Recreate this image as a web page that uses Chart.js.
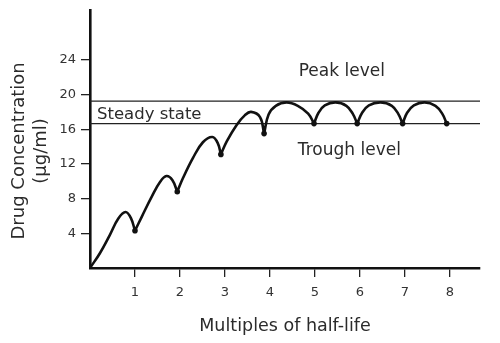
<!DOCTYPE html>
<html>
<head>
<meta charset="utf-8">
<script src="https://cdn.jsdelivr.net/npm/chart.js@4"></script>
<style>
  html, body { margin: 0; padding: 0; background: #fff; }
  #wrap { width: 500px; height: 343px; }
</style>
</head>
<body>
<div id="wrap"><canvas id="c"></canvas></div>
<script>
// Concentration (µg/ml) over time measured in multiples of the drug's half-life.
// Trough concentrations just before each new dose.
const troughX = [1.0, 1.94, 2.91, 3.87, 4.98, 5.94, 6.95, 7.93];
const troughY = [4.3, 8.8, 13.1, 15.5, 16.65, 16.65, 16.65, 16.65];

// Points traced along each dosing interval, between the previous trough
// (the origin for the first dose) and the next trough.
const intervalX = [
  [0.22, 0.44, 0.63, 0.79, 0.91],
  [1.15, 1.37, 1.56, 1.70, 1.83],
  [2.07, 2.29, 2.51, 2.72, 2.84],
  [3.04, 3.26, 3.44, 3.58, 3.78],
  [3.97, 4.13, 4.37, 4.62, 4.85],
  [5.08, 5.22, 5.46, 5.70, 5.84],
  [6.05, 6.20, 6.46, 6.71, 6.85],
  [7.05, 7.20, 7.44, 7.68, 7.83]
];
const intervalY = [
  [1.7, 3.8, 5.7, 6.45, 5.75],
  [5.9, 8.2, 9.95, 10.6, 10.15],
  [10.4, 12.7, 14.5, 15.1, 14.4],
  [14.6, 16.5, 17.6, 18.0, 17.4],
  [17.7, 18.7, 19.1, 18.7, 17.8],
  [17.9, 18.75, 19.1, 18.7, 17.8],
  [17.9, 18.75, 19.1, 18.7, 17.8],
  [17.9, 18.75, 19.1, 18.7, 17.8]
];

// Steady-state band
const peakLevel = 19.25;
const troughLevel = 16.65;

// Axes
const xTicks = [1, 2, 3, 4, 5, 6, 7, 8];
const yTicks = [4, 8, 12, 16, 20, 24];
const xMax = 8.67;
const yMax = 29.75;

// One continuous trace; a null value lifts the pen so every dose starts a fresh arc
// and the troughs stay sharp.
const curve = [];
intervalX.forEach((xs, k) => {
  curve.push(k === 0 ? { x: 0, y: 0 } : { x: troughX[k - 1], y: troughY[k - 1] });
  xs.forEach((x, j) => curve.push({ x, y: intervalY[k][j] }));
  curve.push({ x: troughX[k], y: troughY[k] });
  curve.push({ x: troughX[k], y: null });
});

const INK = '#111';
const TEXT = '#2b2b2b';
const FONT = '"DejaVu Sans", sans-serif';

const figureText = {
  id: 'figureText',
  afterDatasetsDraw(chart) {
    const { ctx, scales: { x, y } } = chart;
    ctx.save();
    ctx.fillStyle = TEXT;
    ctx.textAlign = 'left';
    ctx.textBaseline = 'alphabetic';
    ctx.font = '17px ' + FONT;
    ctx.fillText('Peak level', x.getPixelForValue(4.64), y.getPixelForValue(22.1));
    ctx.fillText('Trough level', x.getPixelForValue(4.62), y.getPixelForValue(13.03));
    ctx.font = '16.5px ' + FONT;
    ctx.fillText('Steady state', x.getPixelForValue(0.156), y.getPixelForValue(17.19));

    // vertical axis title, two stacked lines
    ctx.font = '18px ' + FONT;
    ctx.textAlign = 'center';
    ctx.textBaseline = 'middle';
    const cy = y.getPixelForValue(13.5);
    ctx.save();
    ctx.translate(19, cy);
    ctx.rotate(-Math.PI / 2);
    ctx.fillText('Drug Concentration', 0, 0);
    ctx.restore();
    ctx.save();
    ctx.translate(41, cy);
    ctx.rotate(-Math.PI / 2);
    ctx.fillText('(μg/ml)', 0, 0);
    ctx.restore();
    ctx.restore();
  }
};

new Chart(document.getElementById('c'), {
  type: 'line',
  data: {
    datasets: [
      {
        data: troughX.map((x, i) => ({ x, y: troughY[i] })),
        showLine: false,
        pointRadius: 2.8,
        pointBackgroundColor: INK,
        pointBorderColor: INK,
        pointBorderWidth: 0
      },
      {
        data: curve,
        borderColor: INK,
        borderWidth: 2.6,
        pointRadius: 0,
        tension: 0.4,
        fill: false,
        spanGaps: false
      },
      {
        data: [{ x: 0, y: peakLevel }, { x: xMax, y: peakLevel }],
        borderColor: '#222',
        borderWidth: 1.2,
        pointRadius: 0,
        tension: 0
      },
      {
        data: [{ x: 0, y: troughLevel }, { x: xMax, y: troughLevel }],
        borderColor: '#222',
        borderWidth: 1.2,
        pointRadius: 0,
        tension: 0
      }
    ]
  },
  options: {
    responsive: true,
    maintainAspectRatio: false,
    devicePixelRatio: 1,
    animation: false,
    layout: { padding: { top: 10, right: 20, left: 0, bottom: 0 } },
    plugins: { legend: { display: false }, tooltip: { enabled: false } },
    scales: {
      x: {
        type: 'linear',
        min: 0,
        max: xMax,
        afterBuildTicks: s => { s.ticks = xTicks.map(v => ({ value: v })); },
        afterFit: s => { s.height = 75; s.paddingLeft = 0; s.paddingRight = 0; },
        ticks: { color: '#333', font: { family: FONT, size: 13 }, padding: 8, maxRotation: 0 },
        grid: { drawOnChartArea: false, drawTicks: true, tickLength: 9, color: '#222', lineWidth: 1.3 },
        border: { display: true, color: INK, width: 2.6 },
        title: {
          display: true,
          text: 'Multiples of half-life',
          color: TEXT,
          font: { family: FONT, size: 17.5 },
          padding: { top: 0, bottom: 6 }
        }
      },
      y: {
        type: 'linear',
        min: 0,
        max: yMax,
        afterBuildTicks: s => { s.ticks = yTicks.map(v => ({ value: v })); },
        afterFit: s => { s.width = 90; s.paddingTop = 0; s.paddingBottom = 0; },
        ticks: { color: '#333', font: { family: FONT, size: 13 }, padding: 5 },
        grid: { drawOnChartArea: false, drawTicks: true, tickLength: 9, color: '#222', lineWidth: 1.3 },
        border: { display: true, color: INK, width: 2.6 }
      }
    }
  },
  plugins: [figureText]
});
</script>
</body>
</html>
